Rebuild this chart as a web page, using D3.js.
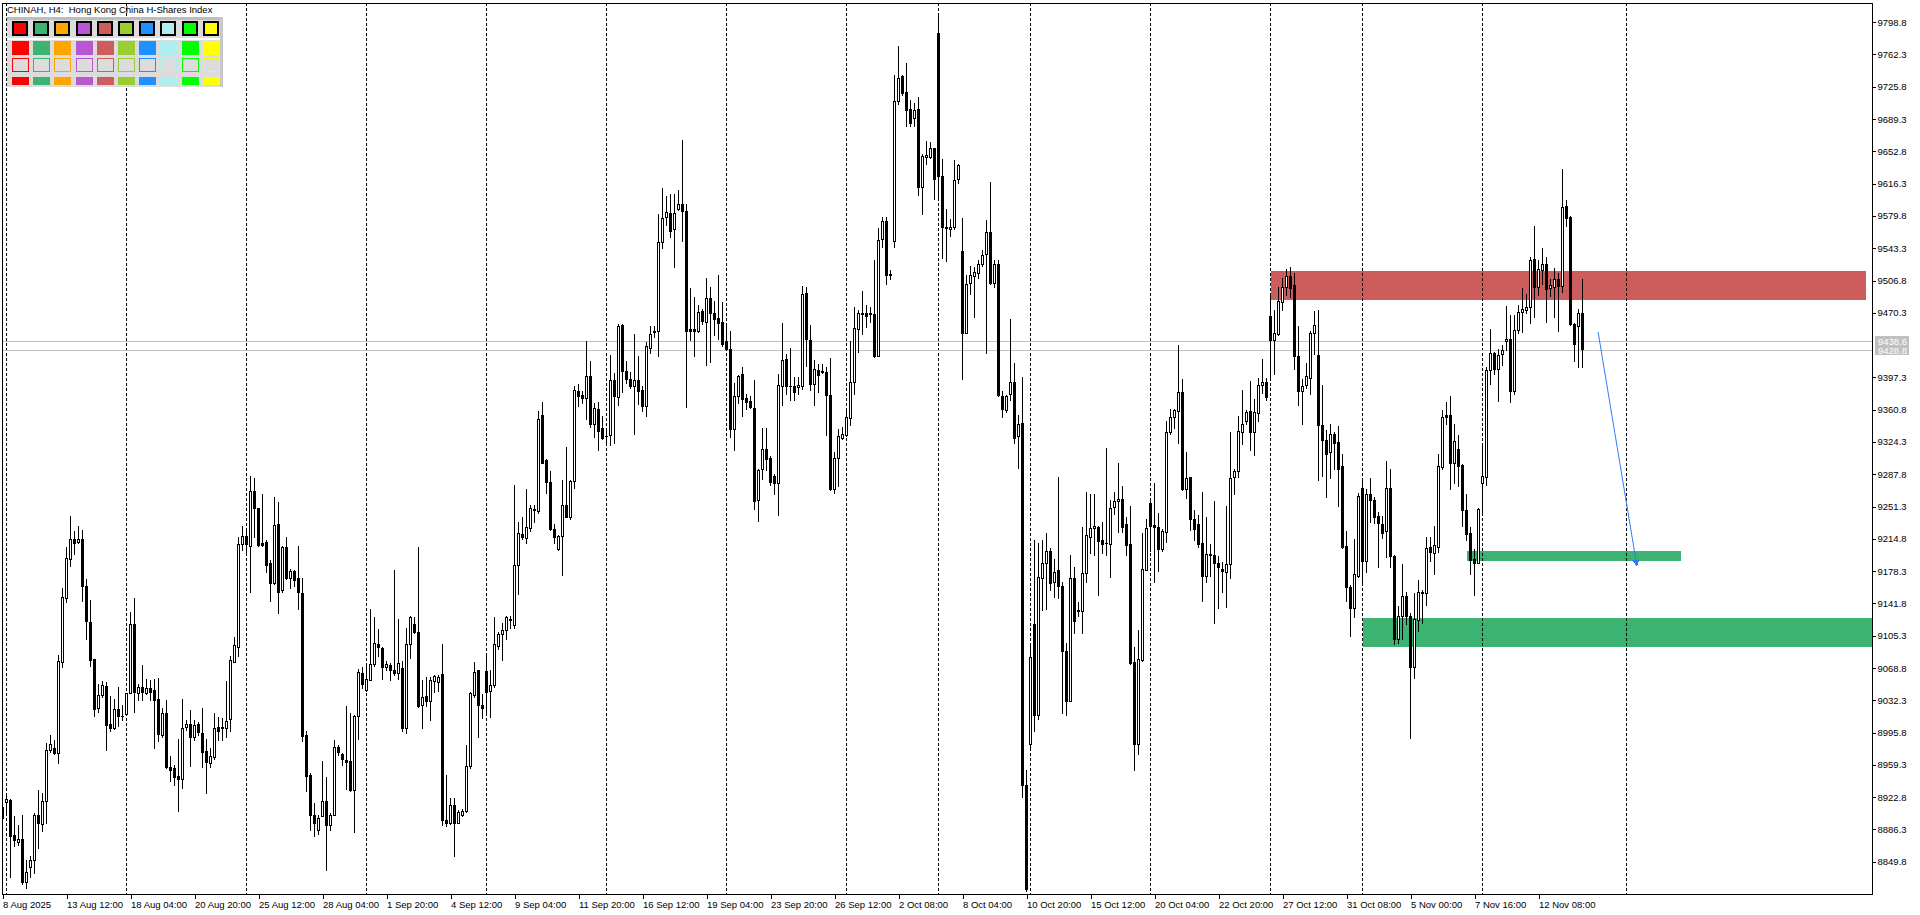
<!DOCTYPE html>
<html>
<head>
<meta charset="utf-8">
<script src="https://cdn.jsdelivr.net/npm/d3@7"></script>
<style>
  body { margin: 0; background: #fff; overflow: hidden; }
  text { font-family: "Liberation Sans", Arial, sans-serif; }
</style>
</head>
<body>
<div id="chart"></div>
<script>
// H4 candles, CHINAH, [open, high, low, close], one per bar from 8 Aug 20:00
var candles = [
[8912,8914,8897,8899],[8917,8925,8903,8921],[8920,8921,8833,8879],[8880,8901,8867,8874],[8872,8891,8869,8876],[8875,8903,8825,8827],
[8827,8852,8820,8838],[8844,8856,8833,8852],[8852,8905,8837,8903],[8903,8931,8865,8893],[8892,8927,8884,8918],[8918,8984,8893,8976],
[8976,8993,8974,8983],[8978,8987,8972,8973],[8973,9084,8961,9077],[9076,9159,9070,9149],[9148,9205,9143,9193],[9192,9241,9184,9215],
[9215,9224,9198,9210],[9211,9229,9210,9215],[9215,9225,9145,9162],[9162,9169,9102,9122],[9121,9146,9071,9078],[9079,9079,9014,9022],
[9023,9051,9019,9038],[9038,9054,9036,9049],[9048,9053,8976,9004],[9005,9037,8997,9001],[9001,9034,9000,9022],[9022,9047,9003,9015],
[9015,9027,9010,9014],[9017,9041,9016,9041],[9041,9132,9040,9119],[9119,9148,9019,9042],[9041,9051,9033,9047],[9047,9072,9033,9042],
[9041,9056,9039,9046],[9046,9055,9033,9042],[9044,9056,8978,9033],[9034,9057,8986,8994],[8993,9024,8991,9018],[9018,9033,8956,8957],
[8957,8969,8941,8953],[8956,8959,8936,8945],[8947,8989,8907,8943],[8943,9034,8933,9001],[9002,9010,8999,9005],[9005,9021,8958,8991],
[8991,9010,8987,9004],[9006,9008,8993,8996],[8995,9023,8957,8974],[8975,8988,8927,8963],[8961,8978,8957,8969],[8968,9018,8966,9001],
[9002,9013,8987,8997],[9002,9012,8987,9001],[9001,9054,8991,9009],[9011,9082,8997,9078],[9076,9104,9075,9095],[9093,9217,9082,9209],
[9209,9229,9202,9218],[9218,9224,9197,9209],[9207,9286,9155,9269],[9269,9284,9217,9250],[9250,9250,9207,9208],[9210,9266,9207,9208],
[9211,9214,9177,9185],[9187,9191,9144,9165],[9165,9262,9164,9230],[9231,9256,9131,9155],[9157,9207,9155,9205],[9205,9217,9169,9171],
[9171,9181,9159,9178],[9178,9180,9162,9168],[9170,9207,9136,9155],[9154,9171,8986,8992],[8993,8998,8930,8947],[8948,8950,8886,8903],
[8903,8916,8879,8894],[8886,8903,8881,8899],[8902,8964,8901,8918],[8918,8945,8840,8891],[8891,8905,8886,8903],[8903,8987,8903,8979],
[8979,8982,8970,8974],[8972,8973,8959,8966],[8965,9026,8932,8962],[8964,9018,8930,8931],[8931,9016,8883,9015],[9015,9068,8989,9064],
[9063,9070,9046,9051],[9044,9072,9043,9056],[9055,9136,9055,9073],[9073,9126,9071,9097],[9096,9113,9082,9092],[9091,9092,9056,9070],
[9070,9077,9067,9073],[9072,9074,9055,9067],[9067,9180,9061,9063],[9063,9124,9056,9074],[9069,9077,8997,9001],[9001,9114,8995,9096],
[9096,9127,9080,9126],[9118,9126,9108,9109],[9109,9206,9025,9026],[9027,9055,9001,9036],[9037,9059,9026,9031],[9032,9059,9010,9055],
[9054,9061,9042,9060],[9053,9061,9043,9059],[9062,9096,8891,8897],[8897,8948,8890,8893],[8893,8922,8892,8914],[8914,8922,8856,8894],
[8894,8908,8893,8906],[8903,8909,8902,8907],[8907,8982,8906,8958],[8958,9042,8956,9040],[9038,9075,9036,9064],[9066,9067,8991,9027],
[9027,9039,9012,9023],[9065,9084,9018,9042],[9043,9067,9013,9049],[9049,9126,9047,9096],[9094,9110,9090,9107],[9107,9120,9078,9112],
[9112,9128,9101,9126],[9124,9127,9114,9123],[9117,9276,9114,9185],[9185,9234,9152,9221],[9220,9240,9215,9217],[9216,9271,9210,9228],
[9227,9253,9224,9250],[9248,9253,9234,9247],[9246,9359,9244,9350],[9355,9369,9300,9301],[9304,9305,9267,9279],[9279,9291,9225,9226],
[9226,9231,9210,9217],[9203,9219,9202,9218],[9218,9281,9174,9253],[9253,9319,9239,9240],[9239,9281,9237,9280],[9280,9388,9272,9383],
[9382,9390,9365,9376],[9377,9382,9368,9374],[9374,9438,9350,9399],[9399,9416,9341,9345],[9345,9368,9330,9363],[9362,9370,9315,9337],
[9340,9354,9328,9329],[9331,9340,9323,9331],[9332,9423,9321,9394],[9394,9402,9323,9376],[9375,9458,9366,9455],[9457,9458,9381,9405],
[9405,9416,9391,9396],[9395,9403,9385,9388],[9387,9446,9333,9394],[9394,9421,9367,9382],[9383,9388,9359,9365],[9365,9437,9354,9433],
[9431,9455,9425,9446],[9450,9455,9443,9449],[9450,9582,9421,9550],[9550,9611,9543,9578],[9579,9602,9570,9584],[9583,9605,9556,9563],
[9565,9605,9522,9583],[9588,9609,9587,9593],[9593,9666,9552,9585],[9585,9593,9364,9450],[9452,9498,9440,9450],[9452,9488,9421,9450],
[9450,9479,9449,9471],[9472,9475,9458,9461],[9460,9510,9411,9487],[9487,9500,9415,9470],[9470,9484,9445,9463],[9464,9513,9441,9459],
[9460,9482,9433,9435],[9438,9455,9428,9429],[9429,9450,9330,9339],[9339,9391,9315,9376],[9376,9400,9368,9399],[9401,9409,9354,9373],
[9374,9378,9362,9370],[9371,9376,9363,9364],[9363,9394,9248,9257],[9259,9294,9235,9293],[9294,9340,9282,9316],[9316,9340,9293,9305],
[9306,9308,9276,9279],[9286,9288,9266,9278],[9278,9401,9242,9389],[9388,9459,9366,9417],[9418,9424,9379,9388],[9388,9431,9372,9387],
[9388,9398,9372,9381],[9386,9398,9379,9389],[9388,9501,9384,9492],[9493,9499,9410,9441],[9440,9456,9383,9390],[9390,9417,9366,9407],
[9406,9412,9381,9400],[9404,9412,9402,9403],[9403,9409,9332,9377],[9377,9419,9270,9271],[9271,9313,9267,9306],[9306,9339,9274,9331],
[9329,9341,9328,9333],[9332,9360,9331,9352],[9351,9438,9344,9392],[9392,9477,9379,9453],[9452,9473,9426,9470],[9470,9495,9446,9469],
[9470,9479,9454,9467],[9470,9477,9460,9469],[9469,9530,9420,9421],[9422,9566,9421,9553],[9554,9579,9545,9574],[9574,9579,9503,9513],
[9514,9519,9509,9513],[9551,9739,9545,9710],[9710,9772,9706,9736],[9738,9739,9716,9719],[9720,9753,9682,9700],[9701,9711,9681,9685],
[9690,9708,9682,9700],[9701,9714,9604,9613],[9613,9650,9582,9647],[9646,9664,9638,9649],[9646,9663,9645,9657],[9657,9657,9599,9621],
[9787,9808,9599,9625],[9625,9644,9532,9567],[9567,9588,9529,9566],[9565,9576,9557,9567],[9567,9643,9565,9620],[9621,9639,9617,9637],
[9540,9577,9396,9448],[9448,9513,9448,9503],[9504,9523,9492,9513],[9512,9522,9465,9516],[9515,9530,9510,9526],[9526,9541,9523,9536],
[9537,9575,9425,9562],[9562,9618,9503,9504],[9504,9530,9500,9526],[9526,9530,9376,9377],[9376,9382,9352,9361],[9360,9377,9358,9376],
[9379,9463,9372,9392],[9392,9413,9323,9329],[9331,9355,9295,9345],[9346,9398,8923,8937],[8937,8953,8817,8819],[8983,9095,8976,9081],
[9119,9213,8997,9016],[9016,9210,9011,9172],[9171,9213,9134,9187],[9187,9221,9135,9201],[9201,9204,9157,9165],[9166,9192,9149,9177],
[9179,9285,9148,9161],[9161,9166,9018,9088],[9088,9097,9016,9031],[9032,9196,9031,9171],[9171,9183,9108,9122],[9134,9143,9127,9133],
[9133,9228,9108,9176],[9176,9268,9166,9219],[9217,9266,9199,9227],[9227,9265,9197,9229],[9228,9229,9151,9212],[9214,9234,9199,9209],
[9210,9317,9197,9210],[9209,9259,9172,9250],[9251,9268,9243,9258],[9258,9300,9223,9260],[9260,9274,9223,9228],[9231,9239,9197,9208],
[9209,9252,9073,9074],[9075,9092,8953,8983],[8983,9112,8972,9079],[9078,9221,9077,9181],[9180,9237,9179,9227],[9255,9261,9201,9229],
[9230,9278,9166,9228],[9228,9244,9178,9203],[9203,9226,9201,9224],[9223,9348,9211,9335],[9335,9361,9333,9352],[9352,9362,9340,9360],
[9359,9434,9323,9381],[9381,9396,9270,9271],[9271,9313,9261,9283],[9285,9285,9225,9237],[9237,9247,9213,9226],[9232,9242,9206,9209],
[9210,9268,9145,9173],[9173,9240,9166,9198],[9198,9209,9173,9197],[9196,9258,9120,9188],[9188,9195,9137,9183],[9181,9189,9155,9178],
[9177,9252,9138,9186],[9186,9335,9170,9284],[9285,9294,9265,9291],[9291,9354,9285,9337],[9336,9383,9322,9345],[9348,9360,9345,9358],
[9359,9393,9315,9336],[9336,9373,9309,9358],[9357,9397,9348,9389],[9389,9418,9380,9392],[9392,9397,9372,9375],[9467,9490,9397,9440],
[9440,9474,9401,9448],[9446,9500,9445,9484],[9483,9510,9474,9500],[9500,9520,9490,9512],[9512,9522,9488,9498],[9502,9515,9407,9421],
[9421,9455,9366,9382],[9382,9396,9345,9388],[9389,9413,9385,9399],[9397,9450,9379,9448],[9448,9472,9424,9457],[9423,9473,9281,9343],
[9343,9389,9286,9326],[9326,9338,9262,9311],[9313,9345,9284,9333],[9333,9335,9294,9323],[9324,9342,9252,9294],[9297,9311,9204,9205],
[9207,9224,9145,9160],[9160,9163,9105,9137],[9137,9215,9126,9175],[9173,9267,9172,9263],[9272,9280,9166,9190],[9190,9271,9177,9265],
[9266,9283,9234,9259],[9259,9262,9233,9239],[9241,9245,9183,9233],[9232,9241,9216,9221],[9224,9303,9194,9272],[9272,9294,9183,9195],
[9195,9196,9096,9101],[9101,9139,9097,9128],[9127,9186,9102,9150],[9150,9155,9118,9128],[9128,9131,8990,9070],[9070,9153,9058,9124],
[9123,9168,9111,9155],[9155,9157,9120,9154],[9154,9217,9140,9204],[9206,9217,9190,9200],[9199,9229,9175,9208],[9206,9311,9200,9297],
[9296,9360,9294,9353],[9355,9369,9345,9353],[9355,9376,9271,9301],[9301,9345,9278,9325],[9316,9332,9275,9297],[9298,9299,9229,9247],
[9247,9265,9214,9220],[9221,9228,9175,9191],[9192,9203,9151,9188],[9188,9250,9187,9249],[9278,9320,9242,9286],[9285,9409,9276,9406],
[9406,9452,9390,9425],[9425,9426,9401,9407],[9407,9429,9371,9423],[9424,9434,9411,9428],[9438,9478,9428,9441],[9441,9468,9369,9382],
[9382,9468,9379,9451],[9451,9479,9448,9471],[9471,9498,9449,9475],[9474,9492,9470,9477],[9477,9533,9459,9530],[9531,9568,9465,9500],
[9500,9530,9490,9520],[9519,9543,9503,9526],[9525,9533,9460,9497],[9498,9509,9489,9502],[9499,9521,9466,9508],[9508,9515,9450,9501],
[9501,9633,9494,9590],[9591,9598,9568,9577],[9579,9580,9457,9458],[9458,9459,9416,9435],[9455,9475,9409,9470],[9470,9509,9409,9429]
];

// time axis: a label every 16 bars
var timeLabels = ["8 Aug 2025", "13 Aug 12:00", "18 Aug 04:00", "20 Aug 20:00", "25 Aug 12:00", "28 Aug 04:00",
    "1 Sep 20:00", "4 Sep 12:00", "9 Sep 04:00", "11 Sep 20:00", "16 Sep 12:00", "19 Sep 04:00", "23 Sep 20:00",
    "26 Sep 12:00", "2 Oct 08:00", "8 Oct 04:00", "10 Oct 20:00", "15 Oct 12:00", "20 Oct 04:00", "22 Oct 20:00",
    "27 Oct 12:00", "31 Oct 08:00", "5 Nov 00:00", "7 Nov 16:00", "12 Nov 08:00"];
var labelBars = [0, 16, 32, 48, 64, 80, 96, 112, 128, 144, 160, 176, 192, 208, 224, 240, 256, 272, 288, 304, 320, 336, 352, 368, 384];

// weekly period separators (bar index of each Monday open)
var separatorBars = [1, 31, 61, 91, 121, 151, 181, 211, 234, 257, 287, 317, 340, 370, 406];

// price scale
var priceTicks = [9798.8, 9762.3, 9725.8, 9689.3, 9652.8, 9616.3, 9579.8, 9543.3, 9506.8, 9470.3, 9397.3,
    9360.8, 9324.3, 9287.8, 9251.3, 9214.8, 9178.3, 9141.8, 9105.3, 9068.8, 9032.3, 8995.8, 8959.3,
    8922.8, 8886.3, 8849.8];
var askBid = [9438.6, 9428.8];

// drawn objects: zones [fromBar, toBar, top, bottom] and the arrow [bar, price, bar, price]
var supplyZone = [317, 465.9, 9518, 9485];
var demandZones = [[366, 419.6, 9201, 9190], [340, 470, 9125, 9093]];
var arrowLine = [398.9, 9448.6, 408.6, 9184];

// colour panel top left
var panelColors = ["#FF0000", "#3CB371", "#FFA500", "#BA55D3", "#CD5C5C", "#9ACD32", "#1E90FF", "#AFEEEE", "#00FF00", "#FFFF00"];

var W = 1920, H = 915;
var plot = { left: 2, right: 1873, top: 3, bottom: 894 };

var svg = d3.select("#chart").append("svg")
    .attr("width", W)
    .attr("height", H)
    .style("display", "block")
    .attr("shape-rendering", "crispEdges");

svg.append("rect").attr("width", W).attr("height", H).attr("fill", "#fff");

svg.append("defs").append("clipPath").attr("id", "plotClip")
    .append("rect")
    .attr("x", plot.left).attr("y", plot.top)
    .attr("width", plot.right - plot.left).attr("height", plot.bottom - plot.top);

// bar index -> pixel centre, price -> pixel
var x = d3.scaleLinear().domain([0, 467.5]).range([2.5, 1872.5]);
var y = d3.scaleLinear().domain([8849.8, 9798.8]).range([861.7, 22.2]);

var inner = svg.append("g").attr("clip-path", "url(#plotClip)");

// zones sit behind the bars
inner.append("rect")
    .attr("x", x(supplyZone[0])).attr("width", x(supplyZone[1]) - x(supplyZone[0]))
    .attr("y", y(supplyZone[2])).attr("height", y(supplyZone[3]) - y(supplyZone[2]))
    .attr("fill", "#CD5C5C");

inner.selectAll(".dz").data(demandZones).join("rect")
    .attr("class", "dz")
    .attr("x", d => x(d[0])).attr("width", d => x(d[1]) - x(d[0]))
    .attr("y", d => y(d[2])).attr("height", d => y(d[3]) - y(d[2]))
    .attr("fill", "#3CB371");

// period separators
inner.selectAll(".sep").data(separatorBars).join("line")
    .attr("class", "sep")
    .attr("x1", d => Math.round(x(d) - 0.5) + 0.5).attr("x2", d => Math.round(x(d) - 0.5) + 0.5)
    .attr("y1", plot.top).attr("y2", plot.bottom)
    .attr("stroke", "#000").attr("stroke-width", 1)
    .attr("stroke-dasharray", "3,2");

// ask / bid lines
inner.selectAll(".pl").data(askBid).join("line")
    .attr("class", "pl")
    .attr("x1", plot.left).attr("x2", plot.right)
    .attr("y1", d => Math.round(y(d)) + 0.5).attr("y2", d => Math.round(y(d)) + 0.5)
    .attr("stroke", "#C0C0C0");

// candles
var cg = inner.selectAll(".candle").data(candles).join("g").attr("class", "candle");

cg.append("line")
    .attr("x1", (d, i) => x(i)).attr("x2", (d, i) => x(i))
    .attr("y1", d => Math.round(y(Math.max(d[1], d[0], d[3]))))
    .attr("y2", d => Math.round(y(Math.min(d[2], d[0], d[3]))) + 1)
    .attr("stroke", "#000");

cg.each(function (d, i) {
    var g = d3.select(this);
    var top = Math.round(y(Math.max(d[0], d[3])));
    var bot = Math.round(y(Math.min(d[0], d[3])));
    if (d[3] < d[0] || bot - top <= 1) {
        g.append("rect")
            .attr("x", x(i) - 1.5).attr("width", 3)
            .attr("y", top).attr("height", Math.max(1, bot - top + 1))
            .attr("fill", "#000");
    } else {
        g.append("rect")
            .attr("x", x(i) - 1).attr("width", 2)
            .attr("y", top + 0.5).attr("height", bot - top)
            .attr("fill", "#fff").attr("stroke", "#000").attr("stroke-width", 1);
    }
});

// arrowed trend line
svg.append("defs").append("marker")
    .attr("id", "arrowHead")
    .attr("viewBox", "0 0 10 10").attr("refX", 9).attr("refY", 5)
    .attr("markerWidth", 7).attr("markerHeight", 7)
    .attr("markerUnits", "userSpaceOnUse")
    .attr("orient", "auto")
    .append("path").attr("d", "M0,0 L10,5 L0,10 z").attr("fill", "#2E7CF6");

svg.append("line")
    .attr("x1", x(arrowLine[0])).attr("y1", y(arrowLine[1]))
    .attr("x2", x(arrowLine[2])).attr("y2", y(arrowLine[3]))
    .attr("stroke", "#2E7CF6").attr("stroke-width", 1)
    .attr("shape-rendering", "auto")
    .attr("marker-end", "url(#arrowHead)");

// frame
svg.append("rect")
    .attr("x", plot.left + 0.5).attr("y", plot.top + 0.5)
    .attr("width", plot.right - plot.left - 1).attr("height", plot.bottom - plot.top)
    .attr("fill", "none").attr("stroke", "#000");

// price axis
var yAxis = svg.append("g")
    .attr("transform", "translate(" + (plot.right - 0.5) + ",0)")
    .call(d3.axisRight(y).tickValues(priceTicks).tickSize(3).tickPadding(2).tickFormat(d3.format(".1f")));
yAxis.select(".domain").remove();
yAxis.selectAll("text").attr("font-size", "9.5px").attr("fill", "#000")
    .attr("font-family", "'Liberation Sans', Arial, sans-serif");
yAxis.selectAll("line").attr("stroke", "#000");

// price tags for ask / bid
var tags = svg.selectAll(".tag").data(askBid).join("g").attr("class", "tag")
    .attr("transform", d => "translate(" + (plot.right + 2) + "," + Math.round(y(d)) + ")");
tags.append("rect").attr("x", 0).attr("y", -5).attr("width", 34).attr("height", 10).attr("fill", "#C0C0C0");
tags.append("text").attr("x", 3).attr("y", 3.5)
    .attr("font-size", "9.5px").attr("fill", "#fff")
    .text(d => d.toFixed(1));

// time axis
var xAxis = svg.append("g")
    .attr("transform", "translate(0," + (plot.bottom + 0.5) + ")")
    .call(d3.axisBottom(x).tickValues(labelBars).tickSize(4).tickPadding(3)
        .tickFormat((d, k) => timeLabels[k]));
xAxis.select(".domain").remove();
xAxis.selectAll("line").attr("stroke", "#000");
xAxis.selectAll("text")
    .attr("text-anchor", "start")
    .attr("x", 0)
    .attr("font-size", "9.5px").attr("fill", "#000")
    .attr("font-family", "'Liberation Sans', Arial, sans-serif");

// title
svg.append("text")
    .attr("x", 7).attr("y", 12.5)
    .attr("font-size", "9.5px").attr("fill", "#000")
    .style("white-space", "pre")
    .text("CHINAH, H4:  Hong Kong China H-Shares Index");

// colour palette panel
var panel = svg.append("g").attr("transform", "translate(7,17)");
panel.append("rect").attr("width", 216).attr("height", 70).attr("fill", "#DCDCDC");
panel.append("rect").attr("width", 216).attr("height", 3).attr("fill", "#BDBDBD");
panel.append("rect").attr("x", 213).attr("width", 3).attr("height", 70).attr("fill", "#C8C8C8");
panel.append("rect").attr("y", 21).attr("width", 213).attr("height", 2).attr("fill", "#fff");

var cellX = (d, j) => 5 + j * 21.2;
panel.selectAll(".r1").data(panelColors).join("rect").attr("class", "r1")
    .attr("x", (d, j) => cellX(d, j) + 1).attr("y", 4.5).attr("width", 14).attr("height", 13)
    .attr("fill", d => d).attr("stroke", "#000").attr("stroke-width", 2);
panel.selectAll(".r2").data(panelColors).join("rect").attr("class", "r2")
    .attr("x", cellX).attr("y", 24).attr("width", 17).attr("height", 14)
    .attr("fill", d => d);
panel.selectAll(".r3").data(panelColors).join("rect").attr("class", "r3")
    .attr("x", (d, j) => cellX(d, j) + 0.5).attr("y", 41.5).attr("width", 16).attr("height", 13)
    .attr("fill", "#DCDCDC").attr("stroke", d => d).attr("stroke-width", 1);
panel.selectAll(".r4").data(panelColors).join("rect").attr("class", "r4")
    .attr("x", cellX).attr("y", 60).attr("width", 17).attr("height", 8)
    .attr("fill", d => d);
</script>
</body>
</html>
